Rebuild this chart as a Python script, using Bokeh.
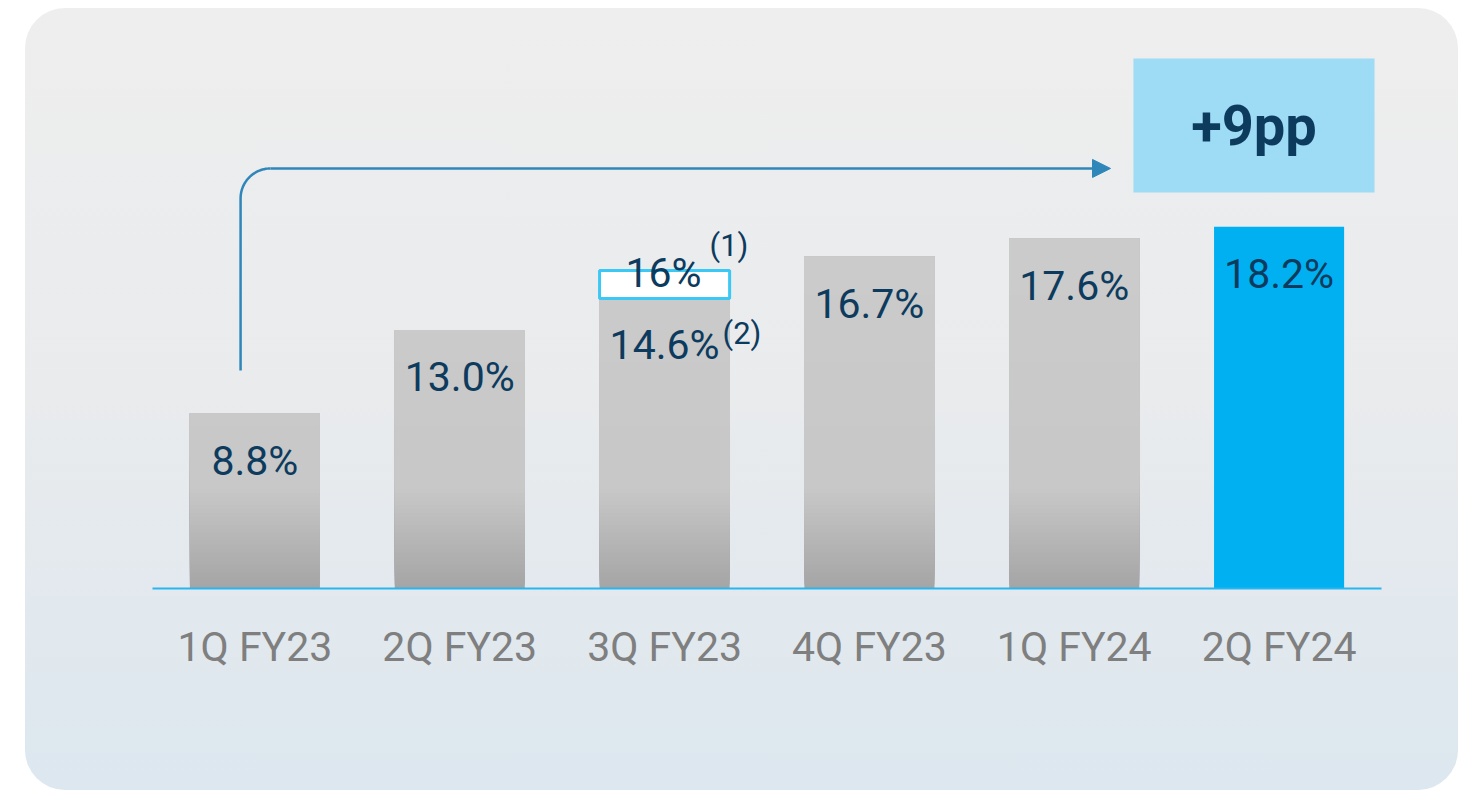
import numpy as np
from bokeh.plotting import figure
from bokeh.models import Range1d, FixedTicker, Arrow, NormalHead
from bokeh.core.properties import value
from bokeh.embed import file_html
from bokeh.resources import INLINE

# ---- data ----
categories = ["1Q FY23", "2Q FY23", "3Q FY23", "4Q FY23", "1Q FY24", "2Q FY24"]
values = [8.8, 13.0, 14.6, 16.7, 17.6, 18.2]
value_labels = ["8.8%", "13.0%", "14.6%", "16.7%", "17.6%", "18.2%"]
adjusted_value = 16.0
adjusted_label = "16%"
note_adjusted = "(1)"
note_reported = "(2)"
delta_label = "+9pp"

FONT = "Roboto"
NAVY = "#0d3b5e"
idx = np.arange(len(categories))
BAR_W = 0.635

p = figure(width=1433, height=782, output_backend="svg", toolbar_location=None,
           x_range=Range1d(-0.5, 5.5), y_range=Range1d(0, 29.19),
           min_border_left=127, min_border_right=77, min_border_top=0,
           min_border_bottom=202)
p.styles = {"margin-left": "25px", "margin-top": "8px", "border-radius": "40px",
            "background": "linear-gradient(180deg, #eeeeee 0%, #e9ebed 50%, #dce7ef 100%)"}
p.background_fill_alpha = 0
p.border_fill_alpha = 0
p.outline_line_color = None
p.grid.visible = False
p.yaxis.visible = False

# ---- gray bars with vertical gradient (overlapping strips, bottom to top) ----
def gray_at(y):
    lo = np.array([0xa5, 0xa5, 0xa5])
    mid = np.array([0xc8, 0xc8, 0xc8])
    hi = np.array([0xcc, 0xcc, 0xcc])
    if y < 5.0:
        c = lo + (mid - lo) * (y / 5.0)
    else:
        c = mid + (hi - mid) * min(1.0, (y - 5.0) / 13.0)
    c = np.clip(c, 0, 255).astype(int)
    return "#%02x%02x%02x" % tuple(c)

step = 0.2
L, R, B, T, C = [], [], [], [], []
for i, v in enumerate(values[:-1]):
    for y0 in np.arange(0, v, step):
        L.append(idx[i] - BAR_W / 2); R.append(idx[i] + BAR_W / 2)
        B.append(y0); T.append(v); C.append(gray_at(y0 + step / 2))
order = np.argsort(B, kind="stable")
p.quad(left=[L[k] for k in order], right=[R[k] for k in order],
       bottom=[B[k] for k in order], top=[T[k] for k in order],
       fill_color=[C[k] for k in order], line_color=None)

# highlighted last bar
p.quad(left=[idx[-1] - BAR_W / 2], right=[idx[-1] + BAR_W / 2], bottom=[0], top=[values[-1]],
       fill_color="#00b0f0", line_color=None)

# adjusted box on 3Q bar
p.quad(left=[idx[2] - BAR_W / 2], right=[idx[2] + BAR_W / 2], bottom=[values[2]], top=[adjusted_value],
       fill_color="white", line_color="#3cc8f5", line_width=3)

# ---- value labels ----
p.text(x=idx, y=values, text=value_labels, text_align="center", text_baseline="middle",
       y_offset=47, text_font=value(FONT), text_font_size="41px", text_color=NAVY)
p.text(x=[idx[2]], y=[adjusted_value], text=[adjusted_label], text_align="center",
       text_baseline="middle", y_offset=2, x_offset=-1, text_font=value(FONT),
       text_font_size="41px", text_color=NAVY)
p.text(x=[idx[2]], y=[adjusted_value], text=[note_adjusted], text_align="left",
       text_baseline="middle", x_offset=45, y_offset=-25, text_font=value(FONT),
       text_font_size="31px", text_color=NAVY)
p.text(x=[idx[2]], y=[values[2]], text=[note_reported], text_align="left",
       text_baseline="middle", x_offset=58, y_offset=35, text_font=value(FONT),
       text_font_size="31px", text_color=NAVY)

# ---- growth arrow ----
ARROW_C = "#2f86b9"
x0, y_start, y_h, x_end = -0.07, 10.97, 21.14, 4.177
rx, ry = 30 / 204.83, 30 / 19.87
th = np.linspace(np.pi, np.pi / 2, 30)
ax = [x0, x0] + list(x0 + rx + rx * np.cos(th))
ay = [y_start, y_h - ry] + list(y_h - ry + ry * np.sin(th))
p.line(ax, ay, line_color=ARROW_C, line_width=2.5)
p.add_layout(Arrow(x_start=x0 + rx, y_start=y_h, x_end=x_end, y_end=y_h,
                   line_color=ARROW_C, line_width=2.5,
                   end=NormalHead(size=18, fill_color=ARROW_C, line_color=ARROW_C)))

# ---- +9pp box ----
p.quad(left=[4.289], right=[5.466], bottom=[19.93], top=[26.67], fill_color="#9edcf5", line_color=None)
p.text(x=[(4.289 + 5.466) / 2], y=[(19.93 + 26.67) / 2], text=[delta_label], text_align="center",
       text_baseline="middle", text_font=value(FONT), text_font_style="bold",
       text_font_size="56px", text_color=NAVY)

# ---- x axis ----
p.xaxis.ticker = FixedTicker(ticks=list(idx))
p.xaxis.major_label_overrides = {int(i): c for i, c in zip(idx, categories)}
p.xaxis.major_tick_line_color = None
p.xaxis.minor_tick_line_color = None
p.xaxis.axis_line_color = "#29b6f0"
p.xaxis.axis_line_width = 2
p.xaxis.major_label_text_font = FONT
p.xaxis.major_label_text_font_size = "41px"
p.xaxis.major_label_text_color = "#7f7f7f"
p.xaxis.major_label_standoff = 28

open("out.html", "w").write(file_html(p, INLINE))
